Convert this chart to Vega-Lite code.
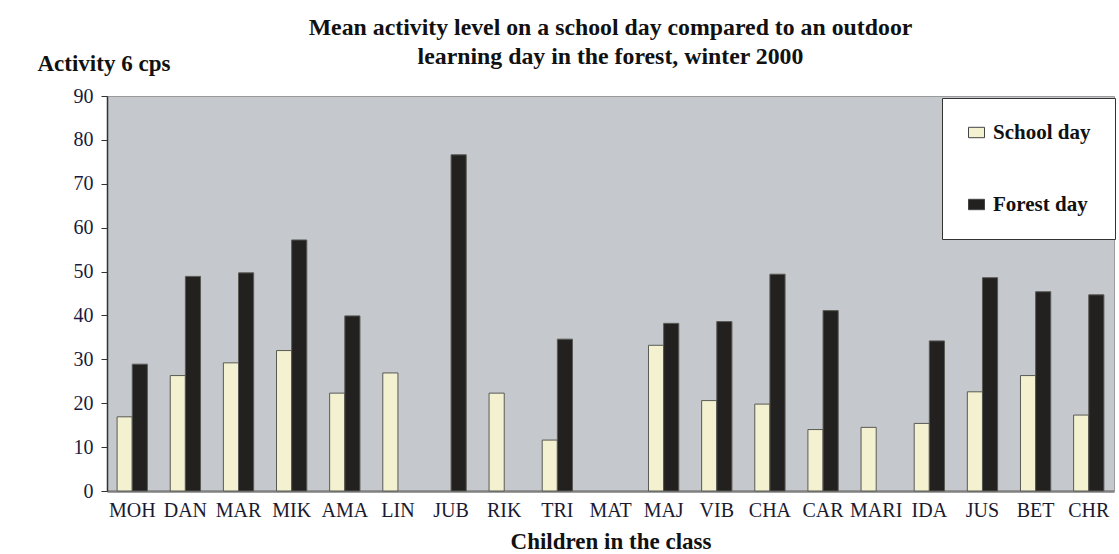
{
  "$schema": "https://vega.github.io/schema/vega-lite/v6.json",
  "width": 1007,
  "height": 395,
  "autosize": {"type": "none"},
  "padding": {"left": 107, "top": 96, "right": 5, "bottom": 63},
  "background": "white",
  "title": {
    "text": ["Mean activity level on a school day compared to an outdoor", "learning day in the forest, winter 2000"],
    "font": "Liberation Serif",
    "fontSize": 23.8,
    "fontWeight": "bold",
    "color": "#111111",
    "anchor": "middle",
    "baseline": "alphabetic",
    "lineHeight": 29,
    "offset": 31,
    "dy": 67,
    "frame": "group"
  },
  "data": {
    "values": [
      {"child": "MOH", "day": "School day", "value": 16.9},
      {"child": "MOH", "day": "Forest day", "value": 28.9},
      {"child": "DAN", "day": "School day", "value": 26.3},
      {"child": "DAN", "day": "Forest day", "value": 48.9},
      {"child": "MAR", "day": "School day", "value": 29.2},
      {"child": "MAR", "day": "Forest day", "value": 49.7},
      {"child": "MIK", "day": "School day", "value": 32.0},
      {"child": "MIK", "day": "Forest day", "value": 57.2},
      {"child": "AMA", "day": "School day", "value": 22.3},
      {"child": "AMA", "day": "Forest day", "value": 39.9},
      {"child": "LIN", "day": "School day", "value": 26.9},
      {"child": "JUB", "day": "Forest day", "value": 76.6},
      {"child": "RIK", "day": "School day", "value": 22.3},
      {"child": "TRI", "day": "School day", "value": 11.6},
      {"child": "TRI", "day": "Forest day", "value": 34.6},
      {"child": "MAJ", "day": "School day", "value": 33.2},
      {"child": "MAJ", "day": "Forest day", "value": 38.2},
      {"child": "VIB", "day": "School day", "value": 20.6},
      {"child": "VIB", "day": "Forest day", "value": 38.6},
      {"child": "CHA", "day": "School day", "value": 19.8},
      {"child": "CHA", "day": "Forest day", "value": 49.4},
      {"child": "CAR", "day": "School day", "value": 14.0},
      {"child": "CAR", "day": "Forest day", "value": 41.1},
      {"child": "MARI", "day": "School day", "value": 14.5},
      {"child": "IDA", "day": "School day", "value": 15.4},
      {"child": "IDA", "day": "Forest day", "value": 34.2},
      {"child": "JUS", "day": "School day", "value": 22.6},
      {"child": "JUS", "day": "Forest day", "value": 48.6},
      {"child": "BET", "day": "School day", "value": 26.3},
      {"child": "BET", "day": "Forest day", "value": 45.4},
      {"child": "CHR", "day": "School day", "value": 17.3},
      {"child": "CHR", "day": "Forest day", "value": 44.7}
    ]
  },
  "mark": {"type": "bar", "stroke": "#5a5a55", "strokeWidth": 1},
  "encoding": {
    "x": {
      "field": "child",
      "type": "nominal",
      "sort": ["MOH","DAN","MAR","MIK","AMA","LIN","JUB","RIK","TRI","MAT","MAJ","VIB","CHA","CAR","MARI","IDA","JUS","BET","CHR"],
      "scale": {
        "domain": ["MOH","DAN","MAR","MIK","AMA","LIN","JUB","RIK","TRI","MAT","MAJ","VIB","CHA","CAR","MARI","IDA","JUS","BET","CHR"],
        "paddingInner": 0.43,
        "paddingOuter": 0.19
      },
      "axis": {
        "title": "Children in the class",
        "titleFont": "Liberation Serif",
        "titleFontSize": 23,
        "titleFontWeight": "bold",
        "titleColor": "#111111",
        "titlePadding": 10,
        "labelAngle": 0,
        "labelFont": "Liberation Serif",
        "labelFontSize": 20,
        "labelColor": "#1a1a30",
        "labelPadding": 9,
        "labelOverlap": false,
        "ticks": false,
        "tickSize": 0,
        "domainColor": "#808080",
        "domainWidth": 2.5
      }
    },
    "xOffset": {
      "field": "day",
      "type": "nominal",
      "sort": ["School day", "Forest day"],
      "scale": {"domain": ["School day", "Forest day"]}
    },
    "y": {
      "field": "value",
      "type": "quantitative",
      "scale": {"domain": [0, 90], "nice": false},
      "axis": {
        "values": [0,10,20,30,40,50,60,70,80,90],
        "title": "Activity 6 cps",
        "titleAngle": 0,
        "titleAlign": "left",
        "titleBaseline": "alphabetic",
        "titleX": -70,
        "titleY": -26,
        "titleFont": "Liberation Serif",
        "titleFontSize": 23,
        "titleFontWeight": "bold",
        "titleColor": "#111111",
        "labelFont": "Liberation Serif",
        "labelFontSize": 20,
        "labelColor": "#1a1a40",
        "labelPadding": 8,
        "tickSize": 6,
        "tickColor": "#333333",
        "domainColor": "#333333",
        "domainWidth": 1.5,
        "grid": false
      }
    },
    "color": {
      "field": "day",
      "type": "nominal",
      "scale": {"domain": ["School day", "Forest day"], "range": ["#f3f1d0", "#22211f"]},
      "legend": {
        "title": null,
        "orient": "none",
        "legendX": 835,
        "legendY": 2,
        "direction": "vertical",
        "fillColor": "white",
        "strokeColor": "#333333",
        "padding": 24,
        "rowPadding": 50,
        "labelFont": "Liberation Serif",
        "labelFontSize": 21,
        "labelFontWeight": "bold",
        "labelColor": "#111111",
        "labelOffset": 6,
        "labelLimit": 300,
        "symbolType": "M-1,-0.65H1V0.65H-1Z",
        "symbolSize": 256,
        "symbolStrokeColor": "#444444",
        "symbolStrokeWidth": 1
      }
    }
  },
  "config": {
    "view": {"fill": "#c5c8cc", "stroke": "#9a9a9a", "strokeWidth": 1},
    "axis": {"grid": false}
  }
}
